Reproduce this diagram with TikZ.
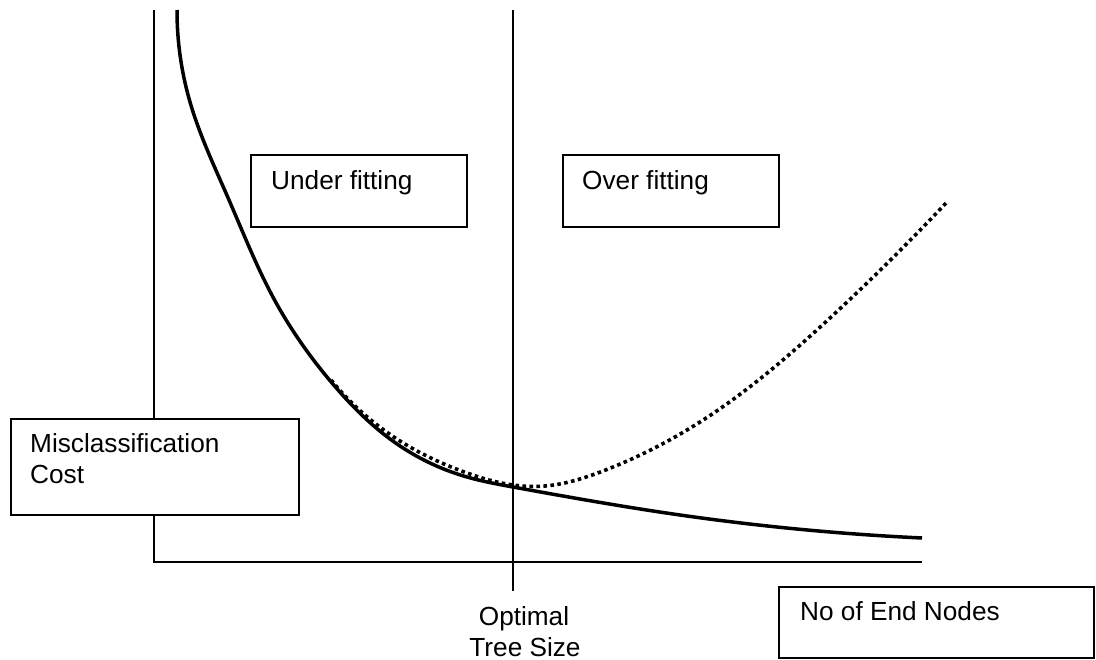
\documentclass[tikz,border=0pt]{standalone}
\usepackage{fontspec}
\setmainfont{Liberation Sans}
\usetikzlibrary{hobby}
\begin{document}
\begin{tikzpicture}[x=1bp,y=-1bp,
  box/.style={draw,line width=1.8bp,inner sep=0pt,anchor=north west},
  txt/.style={inner sep=0pt,font=\fontsize{26.2bp}{31bp}\selectfont},
  axis/.style={line width=1.6bp},
  cost/.style={line width=3.5bp,line join=round},
  overfit/.style={line width=3.6bp,dash pattern=on 3.6bp off 3.4bp}]
\useasboundingbox (0,0) rectangle (1096,660);
% axes
\coordinate (ytop) at (154,10);
\coordinate (orig) at (154,562);
\coordinate (xend) at (922,562);
\coordinate (mtop) at (513,10);
\coordinate (mbot) at (513,591);
\draw[axis] (ytop) -- (orig) -- (xend);
\draw[axis] (mtop) -- (mbot);
% curves
\draw[overfit,use Hobby shortcut] (331,380) .. (400,441) .. (467,473) .. (513,485) .. (545,486) .. (603,471) .. (700,422) .. (830,318) .. (947,202);
\draw[cost,use Hobby shortcut] (177,10) .. (190,102) .. (229,200) .. (274,299) .. (332,383) .. (400,446) .. (467,477) .. (513,487) .. (680,515) .. (922,538);
% boxes
\node[box,minimum width=216bp,minimum height=72bp] (ufbox) at (250,154) {};
\node[txt,anchor=base west] (uftxt) at (271,190) {Under fitting};
\node[box,minimum width=216bp,minimum height=72bp] (ofbox) at (562,154) {};
\node[txt,anchor=base west] (oftxt) at (582,190) {Over fitting};
\node[box,fill=white,minimum width=288bp,minimum height=96bp] (mcbox) at (10,418) {};
\node[txt,anchor=base west] (mctxt1) at (30,452) {Misclassification};
\node[txt,anchor=base west] (mctxt2) at (30,483) {Cost};
\node[box,minimum width=315bp,minimum height=71bp] (enbox) at (778,586) {};
\node[txt,anchor=base west] (entxt) at (800,620) {No of End Nodes};
\node[txt,anchor=base] (opt1) at (524,625) {Optimal};
\node[txt,anchor=base] (opt2) at (525,656) {Tree Size};
\end{tikzpicture}
\end{document}
